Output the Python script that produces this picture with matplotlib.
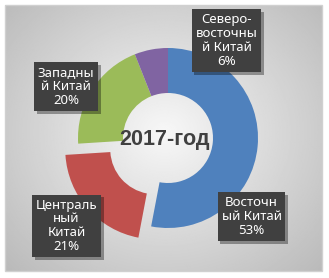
import numpy as np
import matplotlib
matplotlib.use('Agg')
import matplotlib.pyplot as plt
import matplotlib.patheffects as pe
from matplotlib.patches import Rectangle

plt.rcParams['font.family'] = ['Noto Sans', 'DejaVu Sans']

# данные
regions = ["Восточный Китай", "Центральный Китай", "Западный Китай", "Северо-восточный Китай"]
shares = [53, 21, 20, 6]
label_texts = ["Восточн\nый Китай\n53%", "Централь\nный\nКитай\n21%",
               "Западны\nй Китай\n20%", "Северо-\nвосточны\nй Китай\n6%"]
colors = ["#4F81BD", "#C0504D", "#9BBB59", "#8064A2"]
explode = [0, 17, 0, 0]
title = "2017-год"

W, H = 329, 278
fig = plt.figure(figsize=(W / 100, H / 100), dpi=100)
fig.patch.set_facecolor('white')
ax = fig.add_axes([0, 0, 1, 1])

# фон области диаграммы (радиальный градиент)
x0, x1, y0, y1 = 5, 322, 7, 273
gx, gy = np.meshgrid(np.linspace(x0, x1, 300), np.linspace(y0, y1, 260))
r = np.sqrt(((gx - 165) / 200) ** 2 + ((gy - 145) / 180) ** 2)
v = np.clip(0.97 - 0.22 * r, 0, 1)
ax.imshow(v, extent=(x0, x1, y0, y1), origin='lower', cmap='gray',
          vmin=0, vmax=1, zorder=0, aspect='auto')
ax.add_patch(Rectangle((x0, y0), x1 - x0, y1 - y0, fill=False,
                       edgecolor='#d0d0d0', lw=1, zorder=1))

# кольцевая диаграмма
cx, cy, R = 168, H - 138, 90
ax.pie(shares, colors=colors, explode=explode, startangle=90, counterclock=False,
       center=(cx, cy), radius=R, frame=True,
       wedgeprops=dict(width=45, edgecolor='none'))
ax.set_xlim(0, W)
ax.set_ylim(0, H)
ax.set_aspect('equal')
ax.axis('off')

ax.text(cx - 3, cy - 2, title, ha='center', va='center', fontsize=15.5,
        fontweight='bold', family='Liberation Sans', color='#404040', zorder=5)

# подписи
label_pos = [(251.5, H - 216.5), (66.5, H - 226), (66, H - 86.5), (226.5, H - 40.5)]
for (lx, ly), txt in zip(label_pos, label_texts):
    t = ax.text(lx, ly, txt, ha='center', va='center', fontsize=9.5,
                color='white', linespacing=1.1, zorder=7,
                bbox=dict(boxstyle='square,pad=0.3', fc='#404040', ec='none'))
    t.get_bbox_patch().set_path_effects([
        pe.SimplePatchShadow(offset=(2, -2), shadow_rgbFace='#000000', alpha=0.35),
        pe.Normal()])

fig.savefig('out.png', dpi=100)
